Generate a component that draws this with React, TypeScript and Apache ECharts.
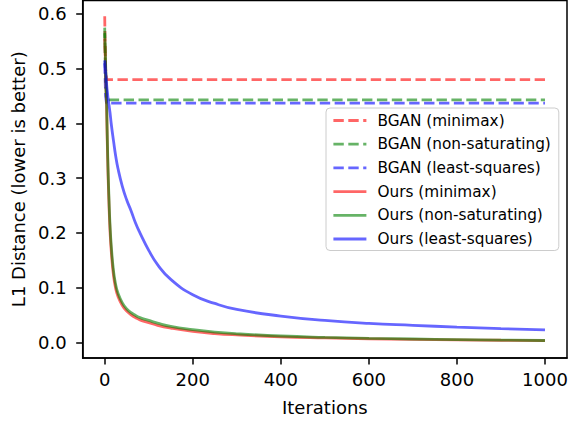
import React, { useEffect, useRef } from "react";
import * as echarts from "echarts";

// Iterations sampled for the "Ours" curves
const OURS_ITERS = [0, 1, 2, 3, 4, 5, 6, 7, 8, 10, 12, 15, 20, 25, 30, 40, 50, 60, 70, 80, 100, 120, 150, 200, 250, 300, 400, 500, 600, 700, 800, 900, 1000];
const OURS_MINIMAX = [0.555, 0.53, 0.5, 0.47, 0.44, 0.4, 0.36, 0.325, 0.295, 0.245, 0.205, 0.165, 0.122, 0.098, 0.084, 0.067, 0.057, 0.05, 0.045, 0.041, 0.036, 0.031, 0.026, 0.02, 0.016, 0.0135, 0.01, 0.008, 0.0065, 0.0055, 0.0045, 0.0037, 0.003];
const OURS_NONSAT = [0.565, 0.54, 0.51, 0.48, 0.45, 0.41, 0.37, 0.335, 0.305, 0.255, 0.215, 0.175, 0.13, 0.105, 0.09, 0.072, 0.061, 0.054, 0.049, 0.045, 0.04, 0.035, 0.029, 0.023, 0.0185, 0.0155, 0.0115, 0.009, 0.0072, 0.006, 0.005, 0.004, 0.0033];
const OURS_LSQ = [0.515, 0.505, 0.495, 0.485, 0.475, 0.465, 0.458, 0.45, 0.444, 0.432, 0.42, 0.398, 0.368, 0.34, 0.318, 0.285, 0.26, 0.24, 0.218, 0.2, 0.168, 0.142, 0.115, 0.087, 0.071, 0.06, 0.048, 0.04, 0.0345, 0.031, 0.0278, 0.025, 0.0228];

// Iterations sampled for the BGAN curves
const BGAN_ITERS = [0, 1, 2, 4, 1000];
const BGAN_MINIMAX = [0.596, 0.54, 0.5, 0.48, 0.48];
const BGAN_NONSAT = [0.575, 0.52, 0.47, 0.443, 0.443];
const BGAN_LSQ = [0.51, 0.48, 0.45, 0.437, 0.437];

const X_TICKS = [0, 200, 400, 600, 800, 1000];
const Y_TICKS = [0, 0.1, 0.2, 0.3, 0.4, 0.5, 0.6];

const RED = "rgba(255,0,0,0.6)";
const GREEN = "rgba(0,128,0,0.6)";
const BLUE = "rgba(0,0,255,0.6)";

const FONT = "DejaVu Sans";

const zip = (xs: number[], ys: number[]) => xs.map((x, i) => [x, ys[i]]);

export default function App() {
  const ref = useRef<HTMLDivElement>(null);
  useEffect(() => {
    if (!ref.current) return;
    const chart = echarts.init(ref.current, null, { renderer: "svg" });
    const lw = 2.8;
    const dash = [10.4, 4.5];
    const mk = (name: string, xs: number[], ys: number[], color: string, dashed: boolean) => ({
      name,
      type: "line",
      data: zip(xs, ys),
      symbol: "none",
      showSymbol: false,
      smooth: dashed ? false : 0.5,
      itemStyle: { color },
      lineStyle: { color, width: lw, type: dashed ? dash : "solid", cap: "butt" },
      emphasis: { disabled: true },
    });
    const axisCommon = {
      axisLine: { show: true, onZero: false, lineStyle: { color: "#000", width: 1.5 } },
      splitLine: { show: false },
      nameTextStyle: { fontFamily: FONT, fontSize: 18, color: "#000" },
    };
    chart.setOption({
      animation: false,
      grid: {
        left: 82.7,
        top: 0.5,
        width: 484.3,
        height: 357.5,
        show: true,
        borderColor: "#000",
        borderWidth: 1.5,
        backgroundColor: "transparent",
      },
      xAxis: {
        ...axisCommon,
        type: "value",
        min: -50,
        max: 1050,
        name: "Iterations",
        nameLocation: "middle",
        nameGap: 40,
        axisTick: { show: true, length: 6.5, inside: false, lineStyle: { color: "#000", width: 1.5 }, customValues: X_TICKS },
        axisLabel: { customValues: X_TICKS, fontFamily: FONT, fontSize: 18, color: "#000", margin: 12, formatter: (v: number) => String(v) },
      },
      yAxis: {
        ...axisCommon,
        type: "value",
        min: -0.0287,
        max: 0.6246,
        name: "L1 Distance (lower is better)",
        nameLocation: "middle",
        nameGap: 55,
        nameRotate: 90,
        axisTick: { show: true, length: 6.5, inside: false, lineStyle: { color: "#000", width: 1.5 }, customValues: Y_TICKS },
        axisLabel: { customValues: Y_TICKS, fontFamily: FONT, fontSize: 18, color: "#000", margin: 16, formatter: (v: number) => v.toFixed(1) },
      },
      legend: {
        orient: "vertical",
        left: 326,
        top: 108,
        padding: [5, 8, 4, 6],
        itemWidth: 33,
        itemHeight: 14,
        itemGap: 8.7,
        backgroundColor: "rgba(255,255,255,0.8)",
        borderColor: "#cccccc",
        borderWidth: 1,
        borderRadius: 4,
        itemStyle: { color: "rgba(0,0,0,0)", borderWidth: 0, opacity: 0 },
        lineStyle: { width: lw },
        textStyle: { fontFamily: FONT, fontSize: 15.3, color: "#000", padding: [0, 0, 0, 6] },
        selectedMode: false,
        data: [
          "BGAN (minimax)",
          "BGAN (non-saturating)",
          "BGAN (least-squares)",
          "Ours (minimax)",
          "Ours (non-saturating)",
          "Ours (least-squares)",
        ],
      },
      series: [
        mk("BGAN (minimax)", BGAN_ITERS, BGAN_MINIMAX, RED, true),
        mk("BGAN (non-saturating)", BGAN_ITERS, BGAN_NONSAT, GREEN, true),
        mk("BGAN (least-squares)", BGAN_ITERS, BGAN_LSQ, BLUE, true),
        mk("Ours (minimax)", OURS_ITERS, OURS_MINIMAX, RED, false),
        mk("Ours (non-saturating)", OURS_ITERS, OURS_NONSAT, GREEN, false),
        mk("Ours (least-squares)", OURS_ITERS, OURS_LSQ, BLUE, false),
      ],
    });
    return () => chart.dispose();
  }, []);
  return <div ref={ref} style={{ position: "absolute", left: 0, top: 0, width: 573, height: 421 }} />;
}
